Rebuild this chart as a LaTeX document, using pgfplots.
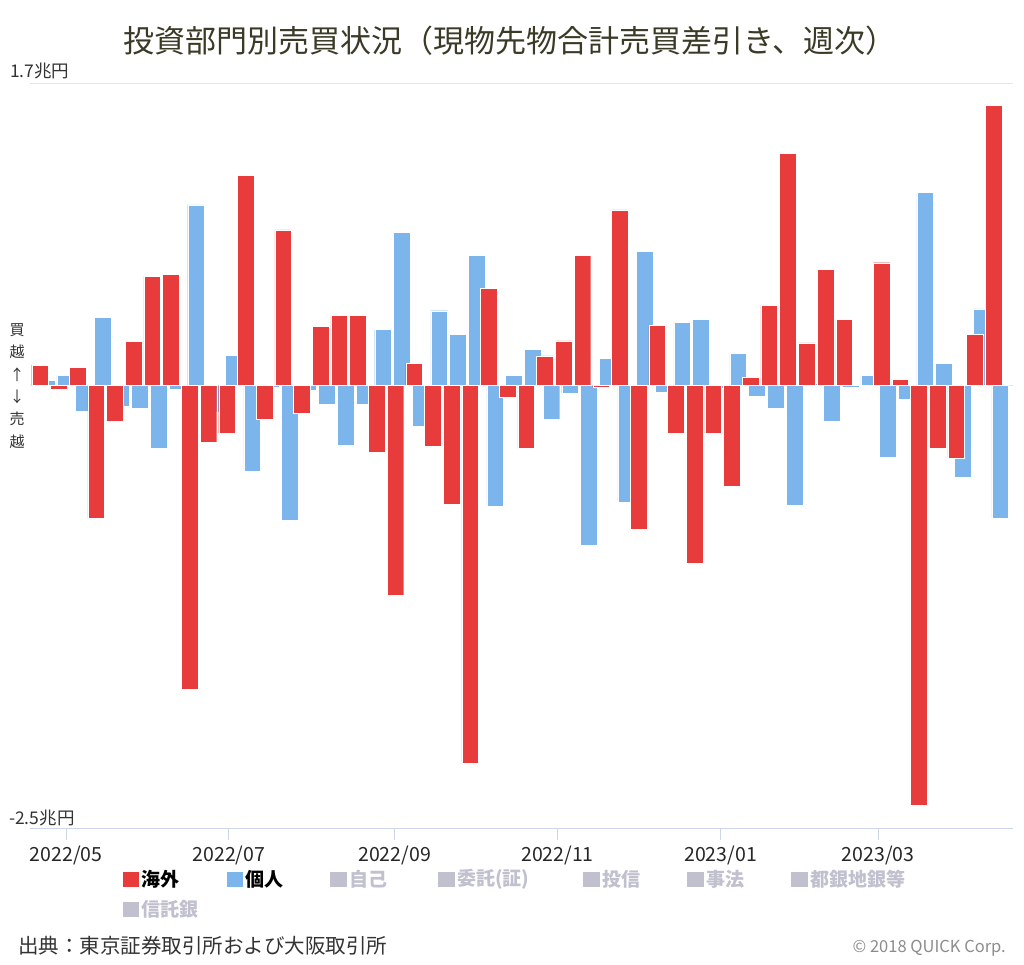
\documentclass[border=0pt]{standalone}
\usepackage{pgfplots}
\pgfplotsset{compat=1.18}
\usepackage{pgfplotstable}
\usepackage{fontspec}
\setmainfont{Noto Sans CJK JP}

\definecolor{kaigai}{RGB}{232,59,59}
\definecolor{kojin}{RGB}{124,181,236}
\definecolor{gridc}{RGB}{230,230,230}
\definecolor{axisc}{RGB}{204,214,235}
\definecolor{hiddenc}{RGB}{192,192,206}
\definecolor{titlec}{RGB}{58,58,38}
\definecolor{txt}{RGB}{51,51,51}

% weekly net buying, trillion yen (w = week index)
\pgfplotstableread{
w  kaigai  kojin
0   0.113   0.026
1  -0.023   0.056
2   0.102  -0.147
3  -0.753   0.383
4  -0.203  -0.119
5   0.249  -0.128
6   0.614  -0.356
7   0.625  -0.023
8  -1.718   1.017
9  -0.320  -0.150
10 -0.271   0.169
11  1.183  -0.484
12 -0.194  -0.012
13  0.876  -0.763
14 -0.156  -0.028
15  0.333  -0.107
16  0.392  -0.339
17  0.392  -0.107
18 -0.377   0.315
19 -1.186   0.864
20  0.122  -0.232
21 -0.346   0.420
22 -0.673   0.288
23 -2.137   0.732
24  0.548  -0.686
25 -0.069   0.056
26 -0.358   0.202
27  0.165  -0.193
28  0.250  -0.047
29  0.734  -0.902
30 -0.012   0.153
31  0.989  -0.659
32 -0.812   0.756
33  0.339  -0.040
34 -0.273   0.356
35 -1.005   0.373
36 -0.269  -0.020
37 -0.569   0.179
38  0.045  -0.060
39  0.450  -0.128
40  1.307  -0.676
41  0.239   0.010
42  0.652  -0.203
43  0.373  -0.013
44  0.000   0.055
45  0.691  -0.405
46  0.034  -0.079
47 -2.373   1.087
48 -0.358   0.122
49 -0.414  -0.521
50  0.286   0.431
51  1.578  -0.753
}\weekly

\begin{document}
\begin{tikzpicture}
\path[use as bounding box] (0,0) rectangle (1024pt,964pt);

\begin{axis}[
  at={(30pt,136pt)}, anchor=south west,
  width=983pt, height=744pt, scale only axis,
  xmin=-0.71, xmax=51.86, ymin=-2.5, ymax=1.7,
  axis line style={draw=none},
  xtick={1.217,9.93,18.79,27.50,36.22,44.65},
  xticklabels={2022/05,2022/07,2022/09,2022/11,2023/01,2023/03},
  xtick pos=bottom, tick align=outside, major tick length=12pt,
  xtick style={color=axisc, line width=1pt},
  xticklabel style={font=\fontsize{19.5}{22}\selectfont, text=black!85, yshift=-2pt},
  ytick={0,1.7}, yticklabels={}, ytick style={draw=none},
  ymajorgrids, grid style={color=gridc, line width=1pt},
  clip=false,
]
\addplot[ybar, bar width=0.893, bar shift=0.171, fill=kojin, draw=white, line width=0.4pt]
  table[x=w, y=kojin] {\weekly};
\addplot[ybar, bar width=0.893, bar shift=-0.171, fill=kaigai, draw=white, line width=0.4pt]
  table[x=w, y=kaigai] {\weekly};
\draw[axisc, line width=1pt] (rel axis cs:0,0) -- (rel axis cs:1,0);
\end{axis}

% title
\node[text=titlec, font=\fontsize{31}{36}\selectfont] at (510pt,923pt)
  {投資部門別売買状況（現物先物合計売買差引き、週次）};

% y labels
\node[anchor=base west, inner sep=0pt, text=txt, font=\fontsize{17.5}{20}\selectfont]
  at (10pt,886pt) {1.7兆円};
\node[anchor=base west, inner sep=0pt, text=txt, font=\fontsize{17.5}{20}\selectfont]
  at (9pt,140pt) {-2.5兆円};

% vertical side label
\node[text=txt, align=center, font=\fontsize{15}{22.4}\selectfont, inner sep=0pt]
  at (17pt,578pt) {買\\越\\↑\\↓\\売\\越};

% legend
\begin{scope}[font=\fontsize{19}{22}\selectfont\bfseries]
\fill[kaigai] (122.7pt,77.3pt) rectangle ++(16.6pt,15pt);
\node[anchor=west, inner sep=0pt, text=black] at (141.5pt,85pt) {海外};
\fill[kojin] (226.7pt,77.3pt) rectangle ++(16.6pt,15pt);
\node[anchor=west, inner sep=0pt, text=black] at (245.5pt,85pt) {個人};
\fill[hiddenc] (330pt,77.3pt) rectangle ++(16.6pt,15pt);
\node[anchor=west, inner sep=0pt, text=hiddenc] at (349pt,85pt) {自己};
\fill[hiddenc] (438pt,77.3pt) rectangle ++(16.6pt,15pt);
\node[anchor=west, inner sep=0pt, text=hiddenc] at (457pt,85pt) {委託(証)};
\fill[hiddenc] (583pt,77.3pt) rectangle ++(16.6pt,15pt);
\node[anchor=west, inner sep=0pt, text=hiddenc] at (602pt,85pt) {投信};
\fill[hiddenc] (687pt,77.3pt) rectangle ++(16.6pt,15pt);
\node[anchor=west, inner sep=0pt, text=hiddenc] at (706pt,85pt) {事法};
\fill[hiddenc] (791pt,77.3pt) rectangle ++(16.6pt,15pt);
\node[anchor=west, inner sep=0pt, text=hiddenc] at (810pt,85pt) {都銀地銀等};
\fill[hiddenc] (122.7pt,47.3pt) rectangle ++(16.6pt,15pt);
\node[anchor=west, inner sep=0pt, text=hiddenc] at (141.5pt,55pt) {信託銀};
\end{scope}

% footer
\node[anchor=west, inner sep=0pt, text=txt, font=\fontsize{20.5}{23}\selectfont]
  at (18pt,18pt) {出典：東京証券取引所および大阪取引所};
\node[anchor=east, inner sep=0pt, text=black!45, font=\fontsize{16.5}{19}\selectfont]
  at (1006pt,16pt) {© 2018 QUICK Corp.};
\end{tikzpicture}
\end{document}
